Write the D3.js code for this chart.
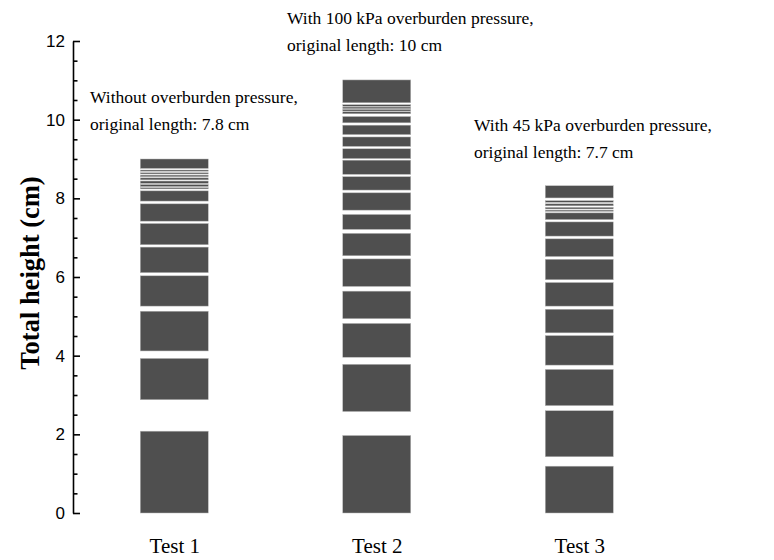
<!DOCTYPE html>
<meta charset="utf-8">
<script src="https://d3js.org/d3.v7.min.js"></script>
<style>
  body { margin: 0; background: #fff; }
</style>
<div id="chart"></div>
<script>

// categories
const tests = ["Test 1", "Test 2", "Test 3"];

// soil layers of each test, [bottom, top] in cm
const layers1 = [
  [0, 2.08], [2.88, 3.93], [4.12, 5.13], [5.26, 6.03], [6.11, 6.76],
  [6.82, 7.36], [7.42, 7.86], [7.93, 8.19], [8.24, 8.27], [8.30, 8.35],
  [8.38, 8.44], [8.47, 8.52], [8.55, 8.59], [8.62, 8.65], [8.69, 8.72],
  [8.76, 9.00]
];
const layers2 = [
  [0, 1.97], [2.58, 3.78], [3.96, 4.82], [4.94, 5.64], [5.76, 6.46],
  [6.54, 7.11], [7.21, 7.59], [7.70, 8.14], [8.21, 8.55], [8.61, 8.97],
  [9.01, 9.26], [9.32, 9.56], [9.62, 9.86], [9.92, 10.08], [10.15, 10.20],
  [10.22, 10.26], [10.28, 10.32], [10.34, 10.38], [10.43, 11.01]
];
const layers3 = [
  [0, 1.19], [1.43, 2.60], [2.73, 3.65], [3.76, 4.51], [4.58, 5.18],
  [5.26, 5.86], [5.93, 6.45], [6.52, 6.97], [7.04, 7.40], [7.46, 7.63],
  [7.67, 7.70], [7.73, 7.77], [7.81, 7.86], [7.90, 7.94], [8.01, 8.32]
];
const allLayers = [layers1, layers2, layers3];

// annotations above each bar
const notes = [
  ["Without overburden pressure,", "original length: 7.8 cm"],
  ["With 100 kPa overburden pressure,", "original length: 10 cm"],
  ["With 45 kPa overburden pressure,", "original length: 7.7 cm"]
];

const majorTicks = [0, 2, 4, 6, 8, 10, 12];
const minorTicks = [0.5, 1, 1.5, 2.5, 3, 3.5, 4.5, 5, 5.5, 6.5, 7, 7.5,
                    8.5, 9, 9.5, 10.5, 11, 11.5];

const W = 774, H = 560;
const x0 = 73, yBottom = 513, yTop = 41;

const svg = d3.select("#chart")
  .append("svg")
  .attr("width", W)
  .attr("height", H);

const x = d3.scalePoint()
  .domain(tests)
  .range([x0, 680.5])
  .padding(0.5);

const y = d3.scaleLinear()
  .domain([0, 12])
  .range([yBottom, yTop]);

const barW = 68;

// bars made of layers
allLayers.forEach((layers, i) => {
  svg.append("g")
    .selectAll("rect")
    .data(layers)
    .join("rect")
      .attr("x", x(tests[i]) - barW / 2)
      .attr("width", barW)
      .attr("y", d => y(d[1]))
      .attr("height", d => y(d[0]) - y(d[1]))
      .style("fill", "#4f4f4f")
      .style("stroke", "#b8b8b8")
      .style("stroke-width", 0.5);
});

// y axis, ticks pointing inward
const yAxis = svg.append("g")
  .attr("transform", `translate(${x0},0)`)
  .call(d3.axisLeft(y)
    .tickValues(majorTicks)
    .tickFormat(d3.format("d"))
    .tickSizeInner(-7)
    .tickSizeOuter(0)
    .tickPadding(8));
yAxis.select(".domain").attr("stroke-width", 1.6);
yAxis.selectAll(".tick line").attr("stroke-width", 1.6);
yAxis.selectAll("text")
  .style("font-family", "'Liberation Sans', Arial, sans-serif")
  .style("font-size", "17px")
  .attr("fill", "#000");

const yMinor = svg.append("g")
  .attr("transform", `translate(${x0},0)`)
  .call(d3.axisLeft(y)
    .tickValues(minorTicks)
    .tickFormat("")
    .tickSizeInner(-4.5)
    .tickSizeOuter(0));
yMinor.select(".domain").remove();
yMinor.selectAll(".tick line").attr("stroke-width", 1.6);

// x labels, no axis line
const xAxis = svg.append("g")
  .attr("transform", `translate(0,${yBottom})`)
  .call(d3.axisBottom(x).tickSize(0).tickPadding(25));
xAxis.select(".domain").remove();
xAxis.selectAll("text")
  .style("font-family", "'Liberation Serif', 'Times New Roman', serif")
  .style("font-size", "21px")
  .attr("fill", "#000");

// y title
svg.append("text")
  .attr("transform", "translate(39,273) rotate(-90)")
  .attr("text-anchor", "middle")
  .style("font-family", "'Liberation Serif', 'Times New Roman', serif")
  .style("font-weight", "bold")
  .style("font-size", "26.5px")
  .text("Total height (cm)");

// annotations
const notePos = [[90, 103], [287, 24], [474, 131]];
notes.forEach((lines, i) => {
  const t = svg.append("text")
    .attr("x", notePos[i][0])
    .attr("y", notePos[i][1])
    .style("font-family", "'Liberation Serif', 'Times New Roman', serif")
    .style("font-size", "17.5px");
  lines.forEach((s, j) => {
    t.append("tspan")
      .attr("x", notePos[i][0])
      .attr("dy", j === 0 ? 0 : 26.5)
      .text(s);
  });
});

</script>
